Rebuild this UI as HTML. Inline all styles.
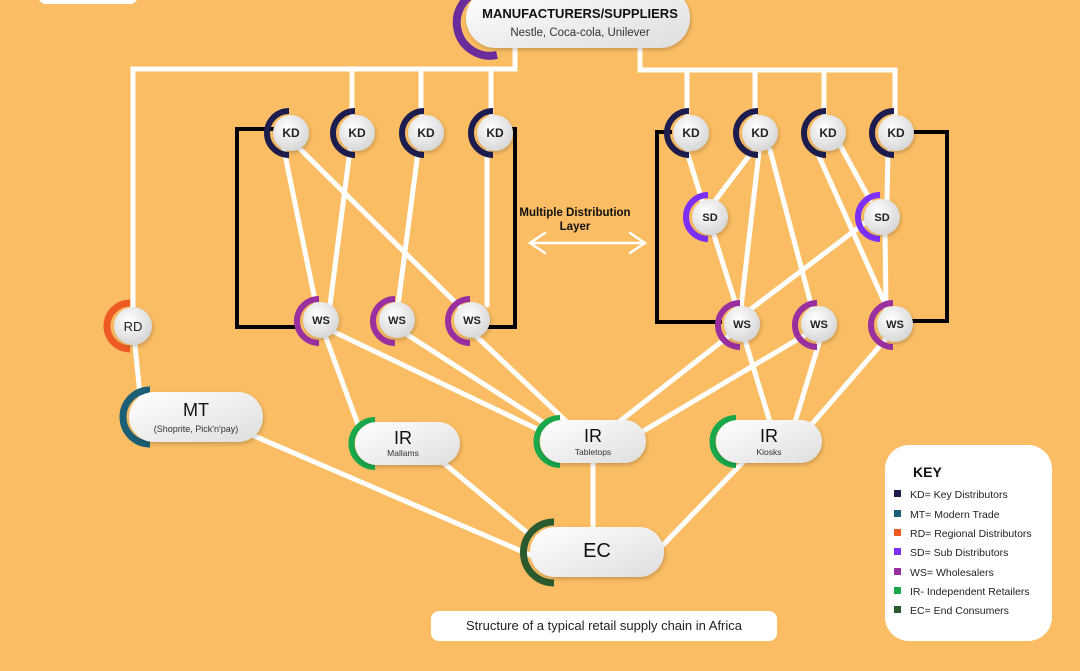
<!DOCTYPE html>
<html><head><meta charset="utf-8"><style>
html,body{margin:0;padding:0;background:#FBBD63;}
svg{display:block;font-family:"Liberation Sans",sans-serif;}
</style></head><body>
<svg width="1080" height="671" viewBox="0 0 1080 671" xmlns="http://www.w3.org/2000/svg">
<defs>
<radialGradient id="g" cx="40%" cy="35%" r="70%"><stop offset="0" stop-color="#ffffff"/><stop offset="1" stop-color="#d4d4d4"/></radialGradient>
<linearGradient id="p" x1="0" y1="0" x2="1" y2="1"><stop offset="0" stop-color="#ffffff"/><stop offset="1" stop-color="#dedede"/></linearGradient>
<filter id="s" x="-30%" y="-30%" width="160%" height="160%"><feDropShadow dx="1" dy="2" stdDeviation="2" flood-color="#000" flood-opacity="0.2"/></filter>
</defs>
<rect width="1080" height="671" fill="#FBBD63"/>
<rect x="38" y="-20" width="100" height="24" rx="8" fill="#fff"/>

<g stroke="#000" stroke-width="4" fill="none">
<polyline points="275,129 237,129 237,327 300,327"/>
<polyline points="508,129 515,129 515,327 485,327"/>
<polyline points="672,132 657,132 657,322 722,322"/>
<polyline points="912,132 947,132 947,321 910,321"/>
</g>

<g stroke="#fff" stroke-width="5" fill="none" stroke-linecap="round">
<polyline points="515,40 515,69 133,69 133,310"/>
<line x1="352" y1="69" x2="352" y2="115"/>
<line x1="421" y1="69" x2="421" y2="115"/>
<line x1="491" y1="69" x2="491" y2="115"/>
<polyline points="640,40 640,70 895,70 895,115"/>
<line x1="687" y1="70" x2="687" y2="115"/>
<line x1="755" y1="70" x2="755" y2="115"/>
<line x1="824" y1="70" x2="824" y2="115"/>
<line x1="284" y1="150" x2="316" y2="305"/>
<line x1="299" y1="148" x2="460" y2="307"/>
<line x1="350" y1="150" x2="330" y2="305"/>
<line x1="418" y1="152" x2="398" y2="305"/>
<line x1="487" y1="152" x2="487" y2="305"/>
<line x1="687" y1="152" x2="702" y2="200"/>
<line x1="752" y1="152" x2="714" y2="202"/>
<line x1="759" y1="152" x2="741" y2="308"/>
<line x1="770" y1="150" x2="812" y2="308"/>
<line x1="817" y1="152" x2="887" y2="308"/>
<line x1="840" y1="145" x2="870" y2="200"/>
<line x1="888" y1="152" x2="887" y2="200"/>
<line x1="713" y1="232" x2="737" y2="308"/>
<line x1="866" y1="222" x2="747" y2="312"/>
<line x1="885" y1="232" x2="886" y2="308"/>
<line x1="325" y1="335" x2="360" y2="430"/>
<line x1="330" y1="330" x2="560" y2="440"/>
<line x1="400" y1="330" x2="555" y2="430"/>
<line x1="475" y1="335" x2="570" y2="425"/>
<line x1="730" y1="335" x2="615" y2="425"/>
<line x1="805" y1="335" x2="640" y2="433"/>
<line x1="745" y1="340" x2="770" y2="422"/>
<line x1="820" y1="340" x2="795" y2="422"/>
<line x1="885" y1="340" x2="812" y2="424"/>
<line x1="135" y1="345" x2="140" y2="395"/>
<line x1="245" y1="432" x2="535" y2="557"/>
<line x1="440" y1="460" x2="530" y2="535"/>
<line x1="593" y1="460" x2="593" y2="530"/>
<line x1="745" y1="460" x2="663" y2="545"/>
</g>

<g stroke="#fff" stroke-width="2.5" fill="none" stroke-linecap="round">
<line x1="530" y1="243" x2="645" y2="243"/>
<polyline points="545,233 530,243 545,253"/>
<polyline points="630,233 645,243 630,253"/>
</g>
<text x="575" y="216" font-size="11.5" font-weight="600" text-anchor="middle" fill="#111">Multiple Distribution</text>
<text x="575" y="230" font-size="11.5" font-weight="600" text-anchor="middle" fill="#111">Layer</text>

<path d="M483,-10 A32,32 0 0 0 497,55" stroke="#6a2c9a" stroke-width="8" fill="none"/>
<rect x="466" y="-12" width="224" height="60" rx="30" fill="url(#p)" filter="url(#s)"/>
<text x="580" y="18" font-size="13" font-weight="bold" text-anchor="middle" fill="#111">MANUFACTURERS/SUPPLIERS</text>
<text x="580" y="36" font-size="11.5" text-anchor="middle" fill="#333">Nestle, Coca-cola, Unilever</text>

<g font-size="12" font-weight="600" text-anchor="middle" fill="#222">
<g><path d="M289,111 A22,22 0 0 0 289,155" stroke="#1c1d4e" stroke-width="6" fill="none"/><circle cx="291" cy="133" r="18" fill="url(#g)" filter="url(#s)"/><text x="291" y="137">KD</text></g>
<g><path d="M355,111 A22,22 0 0 0 355,155" stroke="#1c1d4e" stroke-width="6" fill="none"/><circle cx="357" cy="133" r="18" fill="url(#g)" filter="url(#s)"/><text x="357" y="137">KD</text></g>
<g><path d="M424,111 A22,22 0 0 0 424,155" stroke="#1c1d4e" stroke-width="6" fill="none"/><circle cx="426" cy="133" r="18" fill="url(#g)" filter="url(#s)"/><text x="426" y="137">KD</text></g>
<g><path d="M493,111 A22,22 0 0 0 493,155" stroke="#1c1d4e" stroke-width="6" fill="none"/><circle cx="495" cy="133" r="18" fill="url(#g)" filter="url(#s)"/><text x="495" y="137">KD</text></g>
<g><path d="M689,111 A22,22 0 0 0 689,155" stroke="#1c1d4e" stroke-width="6" fill="none"/><circle cx="691" cy="133" r="18" fill="url(#g)" filter="url(#s)"/><text x="691" y="137">KD</text></g>
<g><path d="M758,111 A22,22 0 0 0 758,155" stroke="#1c1d4e" stroke-width="6" fill="none"/><circle cx="760" cy="133" r="18" fill="url(#g)" filter="url(#s)"/><text x="760" y="137">KD</text></g>
<g><path d="M826,111 A22,22 0 0 0 826,155" stroke="#1c1d4e" stroke-width="6" fill="none"/><circle cx="828" cy="133" r="18" fill="url(#g)" filter="url(#s)"/><text x="828" y="137">KD</text></g>
<g><path d="M894,111 A22,22 0 0 0 894,155" stroke="#1c1d4e" stroke-width="6" fill="none"/><circle cx="896" cy="133" r="18" fill="url(#g)" filter="url(#s)"/><text x="896" y="137">KD</text></g>
<g><path d="M708,195 A22,22 0 0 0 708,239" stroke="#7b2ff7" stroke-width="6" fill="none"/><circle cx="710" cy="217" r="18" fill="url(#g)" filter="url(#s)"/><text x="710" y="221" font-size="11">SD</text></g>
<g><path d="M880,195 A22,22 0 0 0 880,239" stroke="#7b2ff7" stroke-width="6" fill="none"/><circle cx="882" cy="217" r="18" fill="url(#g)" filter="url(#s)"/><text x="882" y="221" font-size="11">SD</text></g>
<g font-size="11"><path d="M319,299 A22,22 0 0 0 319,343" stroke="#9a2fa0" stroke-width="6" fill="none"/><circle cx="321" cy="320" r="18" fill="url(#g)" filter="url(#s)"/><text x="321" y="324">WS</text></g>
<g font-size="11"><path d="M395,299 A22,22 0 0 0 395,343" stroke="#9a2fa0" stroke-width="6" fill="none"/><circle cx="397" cy="320" r="18" fill="url(#g)" filter="url(#s)"/><text x="397" y="324">WS</text></g>
<g font-size="11"><path d="M470,299 A22,22 0 0 0 470,343" stroke="#9a2fa0" stroke-width="6" fill="none"/><circle cx="472" cy="320" r="18" fill="url(#g)" filter="url(#s)"/><text x="472" y="324">WS</text></g>
<g font-size="11"><path d="M740,303 A22,22 0 0 0 740,347" stroke="#9a2fa0" stroke-width="6" fill="none"/><circle cx="742" cy="324" r="18" fill="url(#g)" filter="url(#s)"/><text x="742" y="328">WS</text></g>
<g font-size="11"><path d="M817,303 A22,22 0 0 0 817,347" stroke="#9a2fa0" stroke-width="6" fill="none"/><circle cx="819" cy="324" r="18" fill="url(#g)" filter="url(#s)"/><text x="819" y="328">WS</text></g>
<g font-size="11"><path d="M893,303 A22,22 0 0 0 893,347" stroke="#9a2fa0" stroke-width="6" fill="none"/><circle cx="895" cy="324" r="18" fill="url(#g)" filter="url(#s)"/><text x="895" y="328">WS</text></g>
<g font-size="13"><path d="M130,303 A23,23 0 0 0 130,349" stroke="#ee5a24" stroke-width="7" fill="none"/><circle cx="133" cy="326" r="19" fill="url(#g)" filter="url(#s)"/><text x="133" y="331" font-weight="500">RD</text></g>
</g>

<g text-anchor="middle" fill="#111">
<path d="M150,390 A26,26 0 0 0 150,444" stroke="#1b5e75" stroke-width="7" fill="none"/>
<rect x="129" y="392" width="134" height="50" rx="25" fill="url(#p)" filter="url(#s)"/>
<text x="196" y="416" font-size="18">MT</text>
<text x="196" y="432" font-size="9" fill="#333">(Shoprite, Pick'n'pay)</text>

<path d="M375,420 A23,23 0 0 0 375,467" stroke="#1aa84b" stroke-width="6" fill="none"/>
<rect x="355" y="422" width="105" height="43" rx="21.5" fill="url(#p)" filter="url(#s)"/>
<text x="403" y="444" font-size="18">IR</text>
<text x="403" y="456" font-size="8.5" fill="#333">Mallams</text>

<path d="M560,418 A23,23 0 0 0 560,465" stroke="#1aa84b" stroke-width="6" fill="none"/>
<rect x="540" y="420" width="106" height="43" rx="21.5" fill="url(#p)" filter="url(#s)"/>
<text x="593" y="442" font-size="18">IR</text>
<text x="593" y="455" font-size="8.5" fill="#333">Tabletops</text>

<path d="M736,418 A23,23 0 0 0 736,465" stroke="#1aa84b" stroke-width="6" fill="none"/>
<rect x="716" y="420" width="106" height="43" rx="21.5" fill="url(#p)" filter="url(#s)"/>
<text x="769" y="442" font-size="18">IR</text>
<text x="769" y="455" font-size="8.5" fill="#333">Kiosks</text>

<path d="M554,522 A30,30 0 0 0 554,583" stroke="#2b5a2e" stroke-width="7" fill="none"/>
<rect x="530" y="527" width="134" height="50" rx="25" fill="url(#p)" filter="url(#s)"/>
<text x="597" y="557" font-size="20">EC</text>
</g>

<rect x="431" y="611" width="346" height="30" rx="8" fill="#fff"/>
<text x="604" y="630" font-size="13" text-anchor="middle" fill="#222">Structure of a typical retail supply chain in Africa</text>

<rect x="885" y="445" width="167" height="196" rx="24" fill="#fff"/>
<text x="913" y="477" font-size="14" font-weight="bold" fill="#111">KEY</text>
<g font-size="10.5" fill="#222">
<rect x="894" y="490" width="7" height="7" fill="#1c1d4e"/><text x="910" y="498">KD= Key Distributors</text>
<rect x="894" y="510" width="7" height="7" fill="#1b5e75"/><text x="910" y="518">MT= Modern Trade</text>
<rect x="894" y="529" width="7" height="7" fill="#ee5a24"/><text x="910" y="537">RD= Regional Distributors</text>
<rect x="894" y="548" width="7" height="7" fill="#7b2ff7"/><text x="910" y="556">SD= Sub Distributors</text>
<rect x="894" y="568" width="7" height="7" fill="#9a2fa0"/><text x="910" y="576">WS= Wholesalers</text>
<rect x="894" y="587" width="7" height="7" fill="#1aa84b"/><text x="910" y="595">IR- Independent Retailers</text>
<rect x="894" y="606" width="7" height="7" fill="#2b5a2e"/><text x="910" y="614">EC= End Consumers</text>
</g>
</svg>
</body></html>
